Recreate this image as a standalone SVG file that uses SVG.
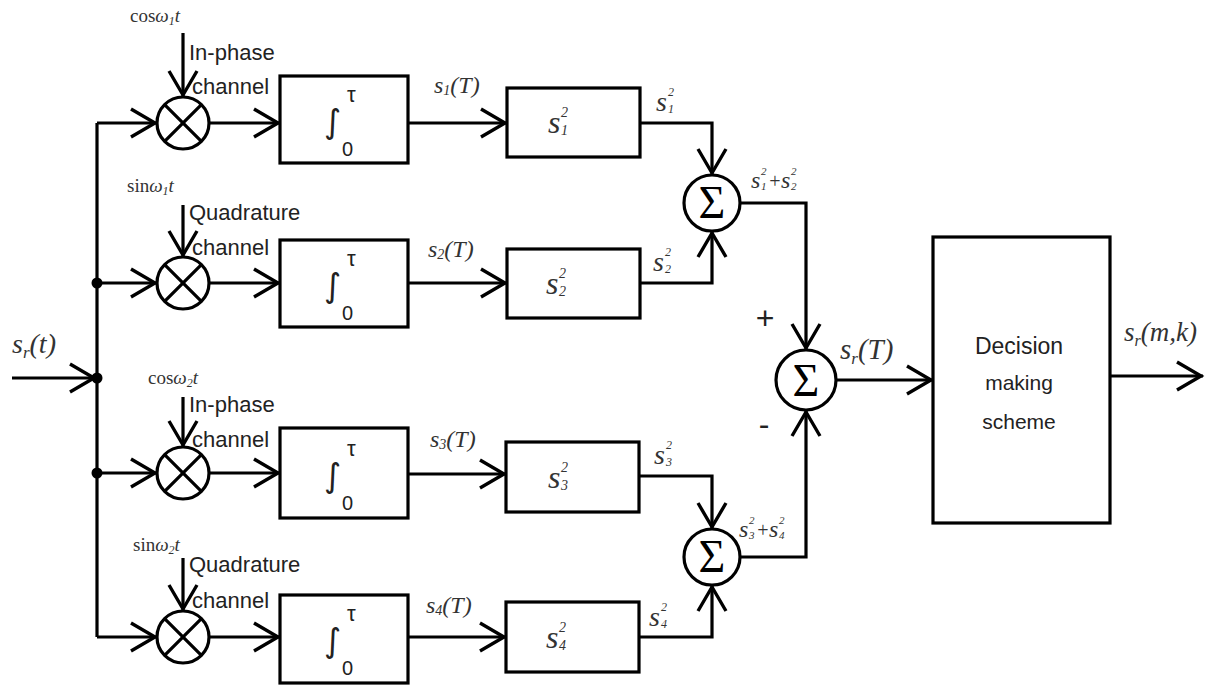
<svg xmlns="http://www.w3.org/2000/svg" width="1221" height="686" viewBox="0 0 1221 686">
<defs>
<style>
.ln{fill:none;stroke:#000;stroke-width:3.2}
.bx{fill:#fff;stroke:#000;stroke-width:3.2}
.ar{fill:none;stroke:#000;stroke-width:3.2;marker-end:url(#arr)}
.sf{font-family:"Liberation Serif",serif;fill:#333}
.it{font-family:"Liberation Serif",serif;font-style:italic;fill:#333}
.sa{font-family:"Liberation Sans",Arial,sans-serif;fill:#222}
.sig{font-family:"Liberation Serif",serif;font-size:46px;fill:#000;text-anchor:middle}
.int{font-family:"DejaVu Sans",sans-serif;fill:#222}
</style>
<marker id="arr" viewBox="-32 -18 36 36" refX="0" refY="0" markerWidth="36" markerHeight="36" markerUnits="userSpaceOnUse" orient="auto">
<path d="M-26,-14 L-2,0 L-26,14" fill="none" stroke="#000" stroke-width="3.4"/>
</marker>
</defs>
<rect width="1221" height="686" fill="#fff"/>

<g id="connectors">
<path class="ar" d="M12,378 H96"/>
<path class="ln" d="M97,123 V637"/>
<path class="ar" d="M97,123 H157"/>
<path class="ar" d="M97,283 H157"/>
<path class="ar" d="M97,473 H157"/>
<path class="ar" d="M97,637 H157"/>
<path class="ar" d="M183,33 V97"/>
<path class="ar" d="M183,205 V257"/>
<path class="ar" d="M183,397 V447"/>
<path class="ar" d="M183,558 V611"/>
<path class="ar" d="M209,123 H280"/>
<path class="ar" d="M209,283 H280"/>
<path class="ar" d="M209,473 H280"/>
<path class="ar" d="M209,637 H280"/>
<path class="ar" d="M408,123 H507"/>
<path class="ar" d="M408,283 H507"/>
<path class="ar" d="M408,474 H506"/>
<path class="ar" d="M408,637 H506"/>
<path class="ar" d="M640,123 H712 V175"/>
<path class="ar" d="M640,283 H712 V231"/>
<path class="ar" d="M639,476 H712 V529"/>
<path class="ar" d="M639,637 H712 V585"/>
<path class="ar" d="M740,203 H806 V350"/>
<path class="ar" d="M740,557 H806 V410"/>
<path class="ar" d="M836,380 H933"/>
<path class="ar" d="M1110,376 H1203"/>
<circle cx="97" cy="283" r="5.5" fill="#000"/>
<circle cx="97" cy="378" r="5.5" fill="#000"/>
<circle cx="97" cy="473" r="5.5" fill="#000"/>
</g>

<g id="input-label">
<text class="it" x="12" y="353" font-size="28">s<tspan font-size="17" dy="5">r</tspan><tspan dy="-5">(t)</tspan></text>
</g>

<g id="mult1">
<circle class="bx" cx="183" cy="123" r="26"/>
<path class="ln" d="M164.6,104.6 L201.4,141.4 M201.4,104.6 L164.6,141.4"/>
<text class="sf" x="130" y="22" font-size="19">cos<tspan class="it">ω</tspan><tspan class="it" font-size="12" dy="3">1</tspan><tspan class="it" dy="-3">t</tspan></text>
<text class="sa" x="189" y="60" font-size="22">In-phase</text>
<text class="sa" x="192" y="94" font-size="22">channel</text>
</g>
<g id="mult2">
<circle class="bx" cx="183" cy="283" r="26"/>
<path class="ln" d="M164.6,264.6 L201.4,301.4 M201.4,264.6 L164.6,301.4"/>
<text class="sf" x="127" y="192" font-size="19">sin<tspan class="it">ω</tspan><tspan class="it" font-size="12" dy="3">1</tspan><tspan class="it" dy="-3">t</tspan></text>
<text class="sa" x="189" y="220" font-size="22">Quadrature</text>
<text class="sa" x="192" y="255" font-size="22">channel</text>
</g>
<g id="mult3">
<circle class="bx" cx="183" cy="473" r="26"/>
<path class="ln" d="M164.6,454.6 L201.4,491.4 M201.4,454.6 L164.6,491.4"/>
<text class="sf" x="148" y="384" font-size="19">cos<tspan class="it">ω</tspan><tspan class="it" font-size="12" dy="3">2</tspan><tspan class="it" dy="-3">t</tspan></text>
<text class="sa" x="189" y="412" font-size="22">In-phase</text>
<text class="sa" x="192" y="447" font-size="22">channel</text>
</g>
<g id="mult4">
<circle class="bx" cx="183" cy="637" r="26"/>
<path class="ln" d="M164.6,618.6 L201.4,655.4 M201.4,618.6 L164.6,655.4"/>
<text class="sf" x="133" y="551" font-size="19">sin<tspan class="it">ω</tspan><tspan class="it" font-size="12" dy="3">2</tspan><tspan class="it" dy="-3">t</tspan></text>
<text class="sa" x="189" y="572" font-size="22">Quadrature</text>
<text class="sa" x="192" y="608" font-size="22">channel</text>
</g>

<g id="int1">
<rect class="bx" x="280" y="76" width="128" height="87"/>
<text class="int" x="324" y="133" font-size="33">∫</text>
<text class="sa" x="347" y="102" font-size="22">τ</text>
<text class="sa" x="342" y="156" font-size="20">0</text>
</g>
<g id="int2">
<rect class="bx" x="280" y="240" width="128" height="87"/>
<text class="int" x="324" y="297" font-size="33">∫</text>
<text class="sa" x="347" y="266" font-size="22">τ</text>
<text class="sa" x="342" y="320" font-size="20">0</text>
</g>
<g id="int3">
<rect class="bx" x="280" y="428" width="128" height="90"/>
<text class="int" x="324" y="487" font-size="33">∫</text>
<text class="sa" x="347" y="456" font-size="22">τ</text>
<text class="sa" x="342" y="510" font-size="20">0</text>
</g>
<g id="int4">
<rect class="bx" x="280" y="595" width="128" height="88"/>
<text class="int" x="324" y="652" font-size="33">∫</text>
<text class="sa" x="347" y="621" font-size="22">τ</text>
<text class="sa" x="342" y="675" font-size="20">0</text>
</g>

<g id="labels-sT">
<text class="it" x="434" y="93" font-size="24">s<tspan font-size="14" dy="2">1</tspan><tspan dy="-2">(T)</tspan></text>
<text class="it" x="428" y="257" font-size="24">s<tspan font-size="14" dy="2">2</tspan><tspan dy="-2">(T)</tspan></text>
<text class="it" x="430" y="447" font-size="24">s<tspan font-size="14" dy="2">3</tspan><tspan dy="-2">(T)</tspan></text>
<text class="it" x="426" y="613" font-size="24">s<tspan font-size="14" dy="2">4</tspan><tspan dy="-2">(T)</tspan></text>
</g>

<g id="sq1">
<rect class="bx" x="507" y="88" width="133" height="69"/>
<text class="it" x="548" y="133" font-size="32">s</text><text class="it" x="561" y="117" font-size="14">2</text><text class="it" x="561" y="135" font-size="14">1</text>
</g>
<g id="sq2">
<rect class="bx" x="507" y="249" width="133" height="69"/>
<text class="it" x="546" y="294" font-size="32">s</text><text class="it" x="559" y="278" font-size="14">2</text><text class="it" x="559" y="296" font-size="14">2</text>
</g>
<g id="sq3">
<rect class="bx" x="506" y="442" width="133" height="70"/>
<text class="it" x="548" y="488" font-size="32">s</text><text class="it" x="561" y="472" font-size="14">2</text><text class="it" x="561" y="490" font-size="14">3</text>
</g>
<g id="sq4">
<rect class="bx" x="506" y="602" width="133" height="70"/>
<text class="it" x="546" y="648" font-size="32">s</text><text class="it" x="559" y="632" font-size="14">2</text><text class="it" x="559" y="650" font-size="14">4</text>
</g>

<g id="labels-sq">
<text class="it" x="656" y="111" font-size="28">s</text><text class="it" x="668" y="96" font-size="12">2</text><text class="it" x="668" y="113" font-size="12">1</text>
<text class="it" x="653" y="271" font-size="28">s</text><text class="it" x="665" y="256" font-size="12">2</text><text class="it" x="665" y="273" font-size="12">2</text>
<text class="it" x="654" y="464" font-size="28">s</text><text class="it" x="666" y="449" font-size="12">2</text><text class="it" x="666" y="466" font-size="12">3</text>
<text class="it" x="649" y="626" font-size="28">s</text><text class="it" x="661" y="611" font-size="12">2</text><text class="it" x="661" y="628" font-size="12">4</text>
</g>

<g id="sum12">
<circle class="bx" cx="712" cy="203" r="28"/>
<text class="sig" x="712" y="218">Σ</text>
<text class="it" x="751" y="188" font-size="24">s</text><text class="it" x="761" y="175" font-size="11">2</text><text class="it" x="761" y="190" font-size="11">1</text>
<text class="it" x="768" y="188" font-size="20">+</text>
<text class="it" x="781" y="188" font-size="24">s</text><text class="it" x="791" y="175" font-size="11">2</text><text class="it" x="791" y="190" font-size="11">2</text>
</g>
<g id="sum34">
<circle class="bx" cx="712" cy="557" r="28"/>
<text class="sig" x="712" y="572">Σ</text>
<text class="it" x="739" y="537" font-size="24">s</text><text class="it" x="749" y="524" font-size="11">2</text><text class="it" x="749" y="539" font-size="11">3</text>
<text class="it" x="756" y="537" font-size="20">+</text>
<text class="it" x="769" y="537" font-size="24">s</text><text class="it" x="779" y="524" font-size="11">2</text><text class="it" x="779" y="539" font-size="11">4</text>
</g>

<g id="sum-main">
<circle class="bx" cx="806" cy="380" r="30"/>
<text class="sig" x="806" y="396" font-size="48">Σ</text>
<text class="sa" x="765" y="329" font-size="32" text-anchor="middle">+</text>
<text class="sa" x="764" y="435" font-size="32" text-anchor="middle">-</text>
<text class="it" x="840" y="359" font-size="29">s<tspan font-size="17" dy="5">r</tspan><tspan dy="-5">(T)</tspan></text>
</g>

<g id="decision">
<rect class="bx" x="933" y="237" width="177" height="286"/>
<text class="sa" x="1019" y="354" font-size="23" text-anchor="middle">Decision</text>
<text class="sa" x="1019" y="390" font-size="21" text-anchor="middle">making</text>
<text class="sa" x="1019" y="429" font-size="21" text-anchor="middle">scheme</text>
<text class="it" x="1124" y="341" font-size="27">s<tspan font-size="16" dy="5">r</tspan><tspan dy="-5">(m,k)</tspan></text>
</g>
</svg>
